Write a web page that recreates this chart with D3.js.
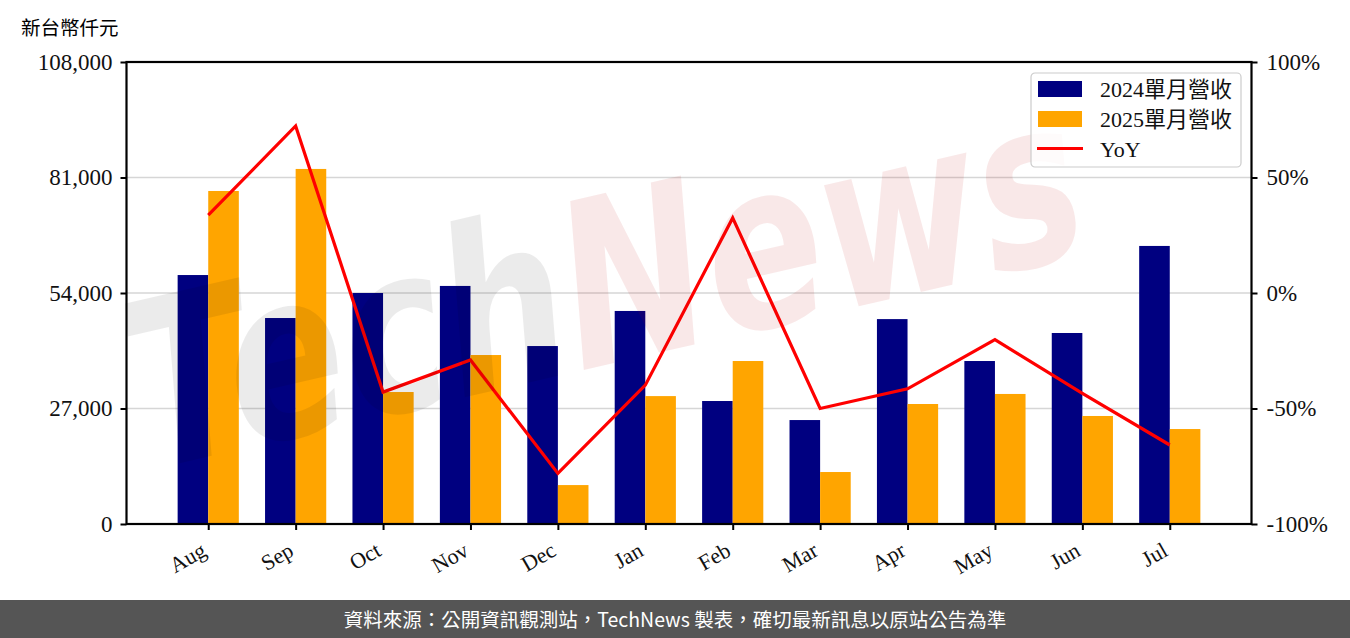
<!DOCTYPE html>
<html lang="zh-Hant-TW"><head><meta charset="utf-8">
<script src="https://cdn.jsdelivr.net/npm/d3@7"></script>
<style>html,body{margin:0;padding:0;background:#fff;}svg{display:block;}</style>
</head><body>
<svg id="c" width="1350" height="638" lang="zh-Hant-TW"></svg>
<script>
const months = ["Aug","Sep","Oct","Nov","Dec","Jan","Feb","Mar","Apr","May","Jun","Jul"];
const rev2024 = [58200, 48150, 54000, 55650, 41600, 49800, 28750, 24300, 47900, 38100, 44650, 65000];
const rev2025 = [77850, 83000, 30850, 39500, 9100, 29900, 38100, 12150, 28050, 30400, 25250, 22200];
const yoy = [33.7, 72.3, -42.9, -29.0, -78.1, -39.9, 32.5, -50.0, -41.5, -20.2, -43.5, -65.8];
const leftTicks = [0, 27000, 54000, 81000, 108000];
const rightTicks = [-100, -50, 0, 50, 100];
const seriesNames = ["2024單月營收", "2025單月營收", "YoY"];
const colors = ["#000080", "#FFA500", "#FF0000"];

const svg = d3.select("#c");
const L = 126.5, R = 1251.5, T = 62, B = 524;
const x = d3.scaleLinear().domain([-0.935, 11.935]).range([L, R]);
const yL = d3.scaleLinear().domain([0, 108000]).range([B, T]);
const yR = d3.scaleLinear().domain([-100, 100]).range([B, T]);
const barW = x(0.35) - x(0);
const serif = "'Liberation Serif','Noto Sans CJK TC',serif";

// grid
svg.append("g").selectAll("line").data(leftTicks.slice(1, -1)).join("line")
  .attr("x1", L).attr("x2", R).attr("y1", d => yL(d)).attr("y2", d => yL(d))
  .attr("stroke", "#d6d6d6").attr("stroke-width", 1.6);

// bars
const g = svg.append("g");
g.selectAll(".b1").data(rev2024).join("rect")
  .attr("x", (d, i) => x(i) - barW).attr("width", barW)
  .attr("y", d => yL(d)).attr("height", d => B - yL(d)).attr("fill", colors[0]);
g.selectAll(".b2").data(rev2025).join("rect")
  .attr("x", (d, i) => x(i)).attr("width", barW)
  .attr("y", d => yL(d)).attr("height", d => B - yL(d)).attr("fill", colors[1]);

// line
svg.append("path").datum(yoy)
  .attr("d", d3.line().x((d, i) => x(i)).y(d => yR(d)))
  .attr("fill", "none").attr("stroke", colors[2]).attr("stroke-width", 3.2);

// axes
const axL = svg.append("g").attr("transform", `translate(${L},0)`)
  .call(d3.axisLeft(yL).tickValues(leftTicks).tickFormat(d3.format(",")).tickSizeOuter(0).tickSize(6).tickPadding(8));
const axR = svg.append("g").attr("transform", `translate(${R},0)`)
  .call(d3.axisRight(yR).tickValues(rightTicks).tickFormat(d => d + "%").tickSizeOuter(0).tickSize(6).tickPadding(9));
const axB = svg.append("g").attr("transform", `translate(0,${B})`)
  .call(d3.axisBottom(x).tickValues(d3.range(12)).tickFormat(i => months[i]).tickSizeOuter(0).tickSize(6));
[axL, axR, axB].forEach(a => {
  a.select(".domain").remove();
  a.selectAll(".tick line").attr("stroke", "#000").attr("stroke-width", 2);
  a.selectAll("text").attr("font-family", serif).attr("font-size", 23).attr("fill", "#111");
});
axB.selectAll("text").attr("text-anchor", "end").attr("dy", 0).attr("font-size", 22)
  .attr("transform", "translate(-6,22) rotate(-30)").attr("y", 10).attr("x", 0);
// frame
svg.append("rect").attr("x", L).attr("y", T).attr("width", R - L).attr("height", B - T)
  .attr("fill", "none").attr("stroke", "#000").attr("stroke-width", 2.2);

// unit label
svg.append("text").attr("x", 21).attr("y", 35).text("新台幣仟元")
  .attr("font-family", "'Noto Sans CJK TC',sans-serif").attr("font-size", 19.5).attr("fill", "#000");

// watermark
const wm = svg.append("text").attr("transform", "translate(150,470) rotate(-13)")
  .attr("font-family", "'DejaVu Sans',sans-serif").attr("font-weight", "bold").attr("font-style", "italic")
  .attr("font-size", 230).attr("textLength", 970).attr("lengthAdjust", "spacingAndGlyphs");
wm.append("tspan").text("Tech").attr("fill", "#000").attr("fill-opacity", 0.08);
wm.append("tspan").text("News").attr("fill", "#c00000").attr("fill-opacity", 0.09);

// legend
const lg = svg.append("g").attr("transform", "translate(1031,73)");
lg.append("rect").attr("width", 210).attr("height", 94).attr("rx", 4)
  .attr("fill", "#fff").attr("fill-opacity", 0.8).attr("stroke", "#cccccc").attr("stroke-width", 1.2);
seriesNames.forEach((n, i) => {
  const cy = 16 + i * 30;
  if (i < 2) lg.append("rect").attr("x", 7).attr("y", cy - 8).attr("width", 44).attr("height", 16).attr("fill", colors[i]);
  else lg.append("line").attr("x1", 6).attr("x2", 52).attr("y1", cy - 0.5).attr("y2", cy - 0.5).attr("stroke", colors[2]).attr("stroke-width", 3.2);
  lg.append("text").attr("x", 69).attr("y", cy + 8).text(n)
    .attr("font-family", serif).attr("font-size", 22).attr("fill", "#111");
});

// footer
svg.append("rect").attr("x", 0).attr("y", 600).attr("width", 1350).attr("height", 38).attr("fill", "#555555");
svg.append("text").attr("x", 675).attr("y", 627).attr("text-anchor", "middle")
  .text("資料來源：公開資訊觀測站，TechNews 製表，確切最新訊息以原站公告為準")
  .attr("font-family", "'Noto Sans CJK TC',sans-serif").attr("font-size", 19.5).attr("fill", "#fff");
</script>
</body></html>
